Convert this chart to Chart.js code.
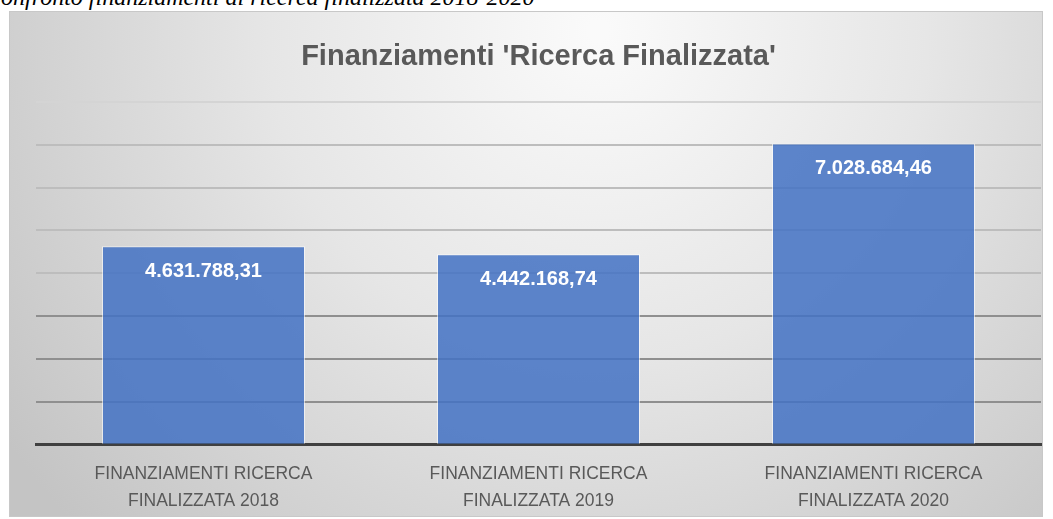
<!DOCTYPE html>
<html>
<head>
<meta charset="utf-8">
<script src="https://cdn.jsdelivr.net/npm/chart.js@4.4.0/dist/chart.umd.min.js"></script>
<style>
  body { margin: 0; background: #fff; width: 1053px; height: 519px; overflow: hidden; position: relative; }
  #caption { position: absolute; left: -15px; top: -15px; font: italic 24px/24px "Liberation Serif", serif; color: #000; white-space: nowrap; }
  #box { position: absolute; left: 9px; top: 11px; width: 1034px; height: 506px; }
</style>
</head>
<body>
<div id="caption">Confronto finanziamenti di ricerca finalizzata 2018-2020</div>
<div id="box"><canvas id="chart"></canvas></div>
<script>
// dati
const categorie = [
  ['FINANZIAMENTI RICERCA', 'FINALIZZATA 2018'],
  ['FINANZIAMENTI RICERCA', 'FINALIZZATA 2019'],
  ['FINANZIAMENTI RICERCA', 'FINALIZZATA 2020']
];
const importi = [4631788.31, 4442168.74, 7028684.46];
const etichette = ['4.631.788,31', '4.442.168,74', '7.028.684,46'];

// sfondo sfumato grigio
const sfondo = {
  id: 'sfondo',
  beforeDraw(chart) {
    const ctx = chart.ctx;
    const w = chart.width, h = chart.height;
    ctx.save();
    const g = ctx.createRadialGradient(w * 0.57, 20, 10, w * 0.57, 20, 720);
    g.addColorStop(0, '#fafafa');
    g.addColorStop(0.45, '#e6e6e6');
    g.addColorStop(1, '#c4c4c4');
    ctx.fillStyle = g;
    ctx.fillRect(0, 0, w, h);
    ctx.strokeStyle = '#c8c8c8';
    ctx.lineWidth = 1;
    ctx.strokeRect(0.5, 0.5, w - 1, h - 1);
    ctx.restore();
  }
};

// valori dentro le barre
const valori = {
  id: 'valori',
  afterDatasetsDraw(chart) {
    const ctx = chart.ctx;
    const meta = chart.getDatasetMeta(0);
    ctx.save();
    ctx.font = 'bold 20px "Liberation Sans", sans-serif';
    ctx.fillStyle = '#ffffff';
    ctx.textAlign = 'center';
    ctx.textBaseline = 'middle';
    meta.data.forEach((bar, i) => {
      ctx.fillText(etichette[i], bar.x, bar.y + 25);
    });
    ctx.restore();
  }
};

let ctx = document.getElementById('chart').getContext('2d');

let chart = new Chart(ctx, {
  type: 'bar',
  data: {
    labels: categorie,
    datasets: [{
      data: importi,
      backgroundColor: 'rgba(68, 114, 196, 0.86)',
      borderColor: 'rgba(255, 255, 255, 0.6)',
      borderWidth: 1,
      categoryPercentage: 1,
      barPercentage: 0.606
    }]
  },
  options: {
    responsive: true,
    maintainAspectRatio: false,
    animation: false,
    layout: { padding: { left: 27, right: 2, top: 0, bottom: -6 } },
    plugins: {
      legend: { display: false },
      tooltip: { enabled: false },
      title: {
        display: true,
        text: "Finanziamenti 'Ricerca Finalizzata'",
        color: '#595959',
        font: { family: '"Liberation Sans", sans-serif', size: 29, weight: 'bold', lineHeight: 1.2 },
        padding: { top: 29, bottom: 27 }
      }
    },
    scales: {
      x: {
        grid: { display: false },
        border: { color: '#404040', width: 3 },
        ticks: {
          color: '#595959',
          padding: 8,
          maxRotation: 0,
          font: { family: '"Liberation Sans", sans-serif', size: 17.5, lineHeight: 1.55 }
        }
      },
      y: {
        min: 0,
        max: 8000000,
        ticks: { display: false, stepSize: 1000000 },
        border: { display: false },
        grid: {
          drawTicks: false,
          lineWidth: 2,
          color: c => c.tick.value <= 3000000 ? '#8f8f8f' : (c.tick.value === 8000000 ? '#d4d4d4' : '#bdbdbd')
        }
      }
    }
  },
  plugins: [sfondo, valori]
});
</script>
</body>
</html>
